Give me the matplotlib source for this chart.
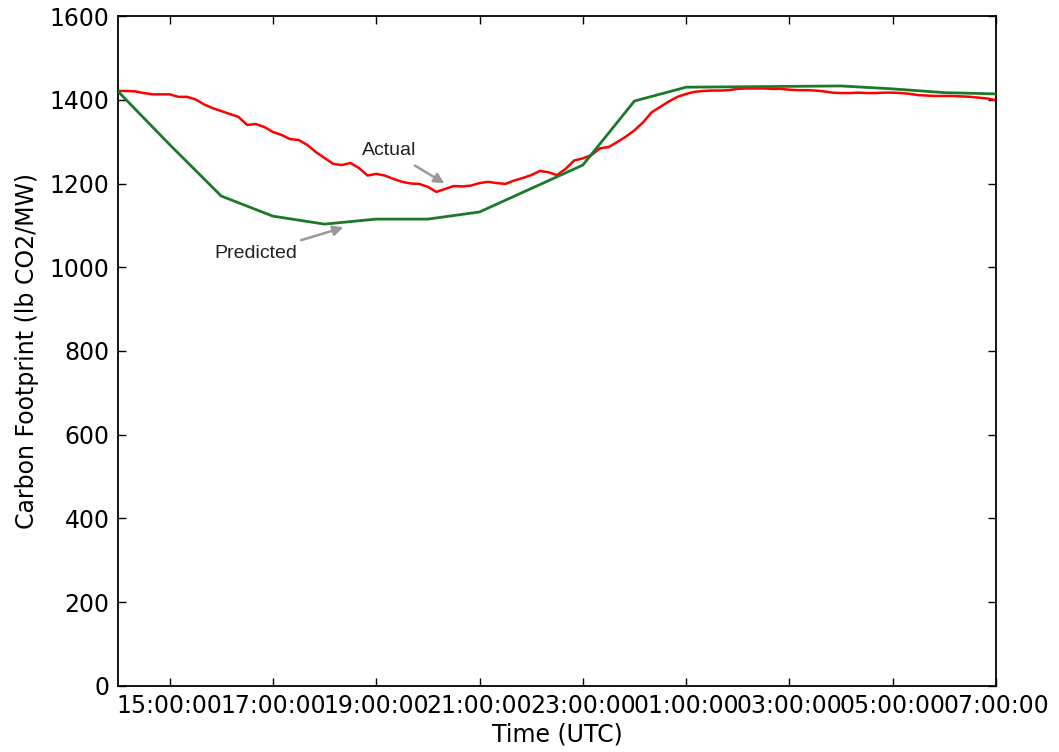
import matplotlib
matplotlib.use("Agg")
import matplotlib.pyplot as plt
import matplotlib.dates as mdates
import pandas as pd

# ---- data ----
actual_start = "2017-06-01 14:00"
actual_freq = "10min"
actual_values = [
    1421, 1421, 1420, 1416, 1413, 1413, 1413, 1407, 1407, 1401,
    1389, 1380, 1373, 1366, 1359, 1340, 1342, 1335, 1323, 1316,
    1306, 1304, 1292, 1275, 1261, 1247, 1244, 1249, 1237, 1219,
    1223, 1219, 1211, 1204, 1200, 1199, 1192, 1180, 1187, 1194,
    1193, 1195, 1201, 1204, 1201, 1199, 1207, 1213, 1220, 1230,
    1227, 1220, 1235, 1255, 1260, 1268, 1284, 1287, 1299, 1312,
    1327, 1346, 1370, 1383, 1396, 1407, 1414, 1419, 1421, 1422,
    1422, 1423, 1426, 1427, 1427, 1427, 1426, 1426, 1424, 1423,
    1423, 1422, 1420, 1417, 1416, 1416, 1417, 1416, 1416, 1417,
    1417, 1416, 1414, 1411, 1410, 1409, 1409, 1409, 1408, 1407,
    1405, 1403, 1399,
]
predicted_start = "2017-06-01 14:00"
predicted_freq = "1h"
predicted_values = [
    1420, 1293, 1170, 1122, 1103, 1115, 1115, 1132, 1188, 1244,
    1397, 1430, 1431, 1432, 1433, 1426, 1417, 1414,
]
y_ticks = [0, 200, 400, 600, 800, 1000, 1200, 1400, 1600]
x_start = "2017-06-01 14:00"
x_end = "2017-06-02 07:00"

actual_times = pd.date_range(actual_start, periods=len(actual_values), freq=actual_freq)
predicted_times = pd.date_range(predicted_start, periods=len(predicted_values), freq=predicted_freq)

# annotation anchors (data coords)
actual_target = (pd.Timestamp("2017-06-01 20:22"), 1197)
actual_text = (pd.Timestamp("2017-06-01 19:15"), 1280)
pred_target = (pd.Timestamp("2017-06-01 18:25"), 1097)
pred_text = (pd.Timestamp("2017-06-01 16:40"), 1032)

# ---- figure ----
fig = plt.figure(figsize=(10.59, 7.52), dpi=100)
ax = fig.add_axes([0.1114, 0.0878, 0.8291, 0.8909])

ax.plot(actual_times, actual_values, color="#ff0000", lw=1.8, zorder=2)
ax.plot(predicted_times, predicted_values, color="#1a7a2a", lw=2.0, zorder=3)

ax.set_xlim(pd.Timestamp(x_start), pd.Timestamp(x_end))
ax.set_ylim(0, 1600)
ax.set_yticks(y_ticks)
ax.xaxis.set_major_locator(mdates.HourLocator(byhour=list(range(1, 24, 2))))
ax.xaxis.set_major_formatter(mdates.DateFormatter("%H:%M:%S"))

ax.tick_params(direction="in", top=True, right=True, length=6, width=1,
               labelsize=17, pad=6)
for s in ax.spines.values():
    s.set_linewidth(1.3)

ax.set_xlabel("Time (UTC)", fontsize=17, labelpad=3)
ax.set_ylabel("Carbon Footprint (lb CO2/MW)", fontsize=17, labelpad=8)

arrow = dict(arrowstyle="-|>", color="#999999", lw=1.8, mutation_scale=15,
             shrinkA=6, shrinkB=2)
ax.annotate("Actual", xy=actual_target, xytext=actual_text,
            fontsize=14, family="Liberation Sans", color="#222222",
            ha="center", va="center", arrowprops=arrow)
ax.annotate("Predicted", xy=pred_target, xytext=pred_text,
            fontsize=14, family="Liberation Sans", color="#222222",
            ha="center", va="center", arrowprops=arrow)

fig.savefig("out.png", dpi=100, facecolor="white")
